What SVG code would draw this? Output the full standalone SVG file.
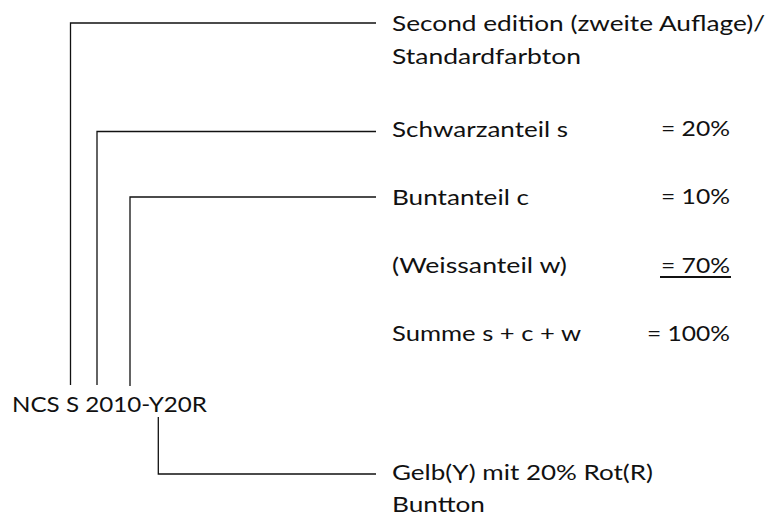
<svg xmlns="http://www.w3.org/2000/svg" width="772" height="517" viewBox="0 0 772 517">
<style>
.t{font-family:Lato,"Liberation Sans",sans-serif;font-size:22px;fill:#111}
.c{fill:none;stroke:#111;stroke-width:1.3}
</style>
<rect width="772" height="517" fill="#fff"/>
<g id="connectors">
<polyline class="c" points="70.5,385 70.5,23 376,23"/>
<polyline class="c" points="97,385 97,131.5 376,131.5"/>
<polyline class="c" points="130,386 130,197 376,197"/>
<polyline class="c" points="158.3,417 158.3,474 376,474"/>
</g>
<g id="code">
<text class="t" x="12" y="412" textLength="195" lengthAdjust="spacingAndGlyphs">NCS S 2010-Y20R</text>
</g>
<g id="edition">
<text class="t" x="392" y="31" textLength="373" lengthAdjust="spacingAndGlyphs">Second edition (zweite Auflage)/</text>
<text class="t" x="392" y="64" textLength="189" lengthAdjust="spacingAndGlyphs">Standardfarbton</text>
</g>
<g id="schwarz">
<text class="t" x="392" y="137" textLength="176" lengthAdjust="spacingAndGlyphs">Schwarzanteil s</text>
<text class="t" x="661" y="136" textLength="69" lengthAdjust="spacingAndGlyphs">= 20%</text>
</g>
<g id="bunt">
<text class="t" x="392" y="205" textLength="137" lengthAdjust="spacingAndGlyphs">Buntanteil c</text>
<text class="t" x="661" y="204" textLength="69" lengthAdjust="spacingAndGlyphs">= 10%</text>
</g>
<g id="weiss">
<text class="t" x="392" y="273" textLength="175" lengthAdjust="spacingAndGlyphs">(Weissanteil w)</text>
<text class="t" x="661" y="273" textLength="69" lengthAdjust="spacingAndGlyphs">= 70%</text>
<line x1="660" y1="277" x2="731" y2="277" stroke="#111" stroke-width="1.8"/>
</g>
<g id="summe">
<text class="t" x="392" y="341" textLength="189" lengthAdjust="spacingAndGlyphs">Summe s + c + w</text>
<text class="t" x="647" y="341" textLength="83" lengthAdjust="spacingAndGlyphs">= 100%</text>
</g>
<g id="buntton">
<text class="t" x="392" y="480" textLength="261" lengthAdjust="spacingAndGlyphs">Gelb(Y) mit 20% Rot(R)</text>
<text class="t" x="392" y="512" textLength="93" lengthAdjust="spacingAndGlyphs">Buntton</text>
</g>
</svg>
